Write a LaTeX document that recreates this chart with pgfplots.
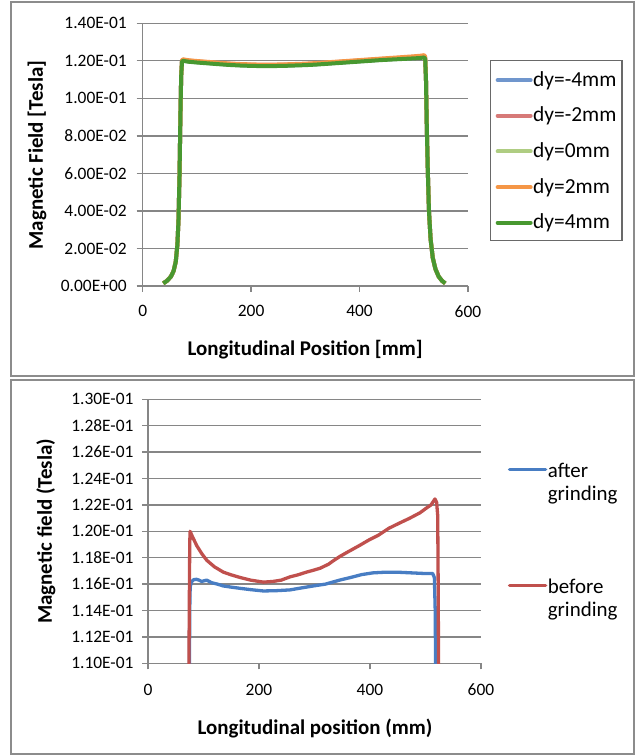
\documentclass[border=0pt]{standalone}
\usepackage{fontspec}
\setmainfont{Carlito}
\usepackage{pgfplots}
\pgfplotsset{compat=1.18}
\usepackage{pgfplotstable}

\definecolor{gridgray}{RGB}{134,134,134}
\definecolor{boxgray}{RGB}{140,140,140}
\definecolor{leggray}{RGB}{105,105,105}
\definecolor{cblue}{RGB}{112,150,205}
\definecolor{cpink}{RGB}{215,122,120}
\definecolor{clgreen}{RGB}{175,205,130}
\definecolor{corange}{RGB}{245,150,70}
\definecolor{cgreen}{RGB}{72,152,48}
\definecolor{bblue}{RGB}{72,125,195}
\definecolor{bred}{RGB}{192,80,77}

% top chart: x, dy=-4, dy=-2, dy=0, dy=2, dy=4
\pgfplotstableread{
x m4 m2 z0 p2 p4
38 0.0014 0.0014 0.0014 0.0014 0.0014
45 0.0028 0.0028 0.0028 0.0028 0.0028
52 0.0050 0.0050 0.0050 0.0050 0.0050
57 0.0080 0.0080 0.0080 0.0080 0.0080
61 0.0130 0.0130 0.0130 0.0130 0.0130
64 0.0220 0.0220 0.0220 0.0220 0.0220
66 0.0350 0.0350 0.0350 0.0350 0.0350
68 0.0600 0.0600 0.0600 0.0600 0.0600
69.5 0.0900 0.0900 0.0900 0.0900 0.0900
71 0.1120 0.1120 0.1120 0.1120 0.1120
72.5 0.1197 0.1200 0.1198 0.1202 0.1195
74 0.1202 0.1206 0.1203 0.1208 0.1200
85 0.1197 0.1201 0.1198 0.1203 0.1195
100 0.1193 0.1197 0.1194 0.1199 0.1191
118 0.1189 0.1193 0.1190 0.1195 0.1187
140 0.1184 0.1188 0.1185 0.1190 0.1182
160 0.1180 0.1184 0.1181 0.1186 0.1178
180 0.1177 0.1181 0.1178 0.1183 0.1175
200 0.1175 0.1179 0.1176 0.1181 0.1173
216 0.1174 0.1178 0.1175 0.1180 0.1172
240 0.1174 0.1178 0.1175 0.1180 0.1172
260 0.1175 0.1179 0.1176 0.1181 0.1173
280 0.1177 0.1181 0.1178 0.1183 0.1175
300 0.1179 0.1183 0.1180 0.1185 0.1177
320 0.1182 0.1186 0.1183 0.1188 0.1180
340 0.1186 0.1190 0.1187 0.1192 0.1184
360 0.1190 0.1194 0.1191 0.1196 0.1188
380 0.1194 0.1198 0.1195 0.1200 0.1192
400 0.1198 0.1202 0.1199 0.1204 0.1196
420 0.1202 0.1206 0.1203 0.1208 0.1200
440 0.1206 0.1210 0.1207 0.1212 0.1204
460 0.1209 0.1213 0.1210 0.1216 0.1207
480 0.1212 0.1217 0.1213 0.1220 0.1210
500 0.1215 0.1221 0.1216 0.1224 0.1213
512 0.1218 0.1224 0.1219 0.1227 0.1215
519 0.1221 0.1226 0.1222 0.1230 0.1218
521 0.1215 0.1220 0.1216 0.1224 0.1212
522.5 0.1100 0.1100 0.1100 0.1100 0.1100
524 0.0850 0.0850 0.0850 0.0850 0.0850
526 0.0600 0.0600 0.0600 0.0600 0.0600
528 0.0400 0.0400 0.0400 0.0400 0.0400
531 0.0250 0.0250 0.0250 0.0250 0.0250
535 0.0150 0.0150 0.0150 0.0150 0.0150
540 0.0090 0.0090 0.0090 0.0090 0.0090
546 0.0050 0.0050 0.0050 0.0050 0.0050
552 0.0028 0.0028 0.0028 0.0028 0.0028
558 0.0014 0.0014 0.0014 0.0014 0.0014
}\toptable

\pgfplotstableread{
x y
74.5 0.1080
75.2 0.1140
76 0.1158
78.7 0.1162
83 0.11635
87.7 0.11636
92 0.1163
96.7 0.1162
101 0.11625
105.7 0.1163
115 0.1161
125 0.1160
135.7 0.11586
150 0.11577
165.8 0.11568
185 0.11558
207.8 0.11548
230 0.1155
255.9 0.11556
275 0.1157
297.9 0.11586
320 0.1160
346 0.11631
365 0.1165
385 0.11672
405 0.11685
427 0.1169
450 0.1169
475 0.11685
500 0.1168
513 0.1168
516 0.1165
517.5 0.1140
518.5 0.1080
}\aftertable

\pgfplotstableread{
x y
73.5 0.1080
74.5 0.1150
75.2 0.1190
75.8 0.1200
80 0.1196
88 0.1189
97 0.1183
106 0.1178
120 0.1173
136 0.1169
150 0.1167
166 0.1165
185 0.1163
200 0.1162
208 0.11615
225 0.1162
240 0.1163
256 0.11655
270 0.1167
285 0.1169
298 0.11705
310 0.1172
325 0.1175
335 0.1178
346 0.1181
361 0.11846
380 0.1189
398 0.11934
415 0.1197
434 0.12023
452 0.1206
471 0.12098
490 0.1214
501 0.12174
510 0.1220
517 0.12245
520 0.1222
522 0.1212
523 0.1150
523.6 0.1080
}\beforetable

\pgfplotsset{
  myaxis/.style={
    scale only axis,
    axis x line*=bottom, axis y line*=left,
    axis line style={gridgray, line width=1.3bp},
    every tick/.style={gridgray, line width=1.3bp},
    tick align=outside, major tick length=6bp,
    ymajorgrids, grid style={gridgray, line width=1.3bp},
    tick label style={font=\fontsize{17.5}{20}\selectfont, text=black},
    label style={font=\fontsize{21}{25}\selectfont\bfseries},
    xmin=0, xmax=600, xtick={0,200,400,600}, xticklabels={0,200,400,600},
    legend cell align=left,
  }
}

\begin{document}
\begin{tikzpicture}
\path[use as bounding box, fill=white] (0bp,0bp) rectangle (639bp,756bp);
\draw[boxgray, line width=1.5bp] (11bp,380bp) rectangle (634bp,754bp);
\draw[boxgray, line width=1.5bp] (11bp,2bp) rectangle (634bp,376bp);

\begin{axis}[myaxis,
  at={(142.7bp,470bp)}, anchor=south west,
  width=325.3bp, height=262.7bp,
  ymin=0, ymax=0.14,
  ytick={0,0.02,0.04,0.06,0.08,0.10,0.12,0.14},
  yticklabels={0.00E+00,2.00E-02,4.00E-02,6.00E-02,8.00E-02,1.00E-01,1.20E-01,1.40E-01},
  yticklabel style={xshift=-6.5bp},
  xticklabel style={yshift=-10bp},
  xlabel={Longitudinal Position [mm]},
  ylabel={Magnetic Field [Tesla]},
  xlabel style={at={(axis description cs:0.499,-0.2436)}, anchor=center},
  ylabel style={at={(axis description cs:-0.325,0.4987)}, anchor=center},
  legend style={at={(axis description cs:1.0677,0.86)}, anchor=north west,
    draw=leggray, line width=1.3bp, font=\fontsize{21.5}{25}\selectfont,
    inner xsep=5bp, inner ysep=7.5bp, row sep=13.3bp,
    cells={anchor=base west},
    nodes={inner xsep=0.5bp, inner ysep=3bp}},
  legend image code/.code={\draw[#1, line width=4bp, line cap=round] (1bp,6bp) -- (34bp,6bp);},
]
\addplot[cblue, line width=4bp, line join=round] table[x=x, y=m4] {\toptable};
\addlegendentry{dy=-4mm}
\addplot[cpink, line width=4bp, line join=round] table[x=x, y=m2] {\toptable};
\addlegendentry{dy=-2mm}
\addplot[clgreen, line width=4bp, line join=round] table[x=x, y=z0] {\toptable};
\addlegendentry{dy=0mm}
\addplot[corange, line width=4bp, line join=round] table[x=x, y=p2] {\toptable};
\addlegendentry{dy=2mm}
\addplot[cgreen, line width=4bp, line join=round] table[x=x, y=p4] {\toptable};
\addlegendentry{dy=4mm}
\end{axis}

\begin{axis}[myaxis,
  at={(148bp,92.7bp)}, anchor=south west,
  width=333bp, height=264bp,
  ymin=0.11, ymax=0.13,
  ytick={0.110,0.112,0.114,0.116,0.118,0.120,0.122,0.124,0.126,0.128,0.130},
  yticklabels={1.10E-01,1.12E-01,1.14E-01,1.16E-01,1.18E-01,1.20E-01,1.22E-01,1.24E-01,1.26E-01,1.28E-01,1.30E-01},
  yticklabel style={xshift=-5bp},
  xticklabel style={yshift=-11bp},
  xlabel={Longitudinal position (mm)},
  ylabel={Magnetic field (Tesla)},
  xlabel style={at={(axis description cs:0.5015,-0.246)}, anchor=center},
  ylabel style={at={(axis description cs:-0.307,0.5)}, anchor=center},
  legend style={at={(axis description cs:1.08,0.771)}, anchor=north west,
    draw=none, fill=none, font=\fontsize{21}{23}\selectfont,
    inner xsep=0bp, inner ysep=0bp, row sep=94bp,
    cells={anchor=base west},
    nodes={inner xsep=0.5bp, inner ysep=3bp}},
  legend image code/.code={\draw[#1, line width=3.5bp, line cap=round] (1bp,8bp) -- (37bp,8bp);},
]
\addplot[bblue, line width=3.3bp, line join=round] table[x=x, y=y] {\aftertable};
\addlegendentry{\vtop{\hbox{after}\hbox{grinding}}}
\addplot[bred, line width=3.3bp, line join=round] table[x=x, y=y] {\beforetable};
\addlegendentry{\vtop{\hbox{before}\hbox{grinding}}}
\end{axis}
\end{tikzpicture}
\end{document}
